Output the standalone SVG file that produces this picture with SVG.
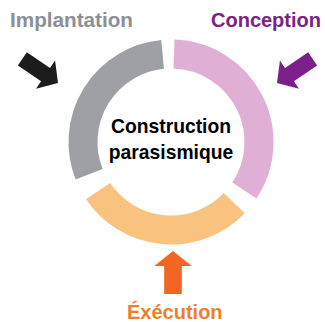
<svg xmlns="http://www.w3.org/2000/svg" xmlns:xlink="http://www.w3.org/1999/xlink" width="325" height="322" viewBox="0 0 325 322">
  <style>
    .seg { fill: none; stroke-width: 29; }
    .lbl { font-family: "Liberation Sans", Arial, sans-serif; font-weight: bold; font-size: 20px; }
    .ctr { font-family: "Liberation Sans", Arial, sans-serif; font-weight: bold; font-size: 19.3px; fill: #000; text-anchor: middle; }
  </style>
  <defs>
    <polygon id="arrow" points="-43,-8 -15,-8 -15,-17 0,0 -15,17 -15,8 -43,8"/>
  </defs>
  <rect width="325" height="322" fill="#ffffff"/>
  <g id="ring">
    <path id="seg-conception" class="seg" stroke="#dfafd6" d="M174.07,54.05 A88,88 0 0 1 244.38,190.57"/>
    <path id="seg-execution" class="seg" stroke="#f9c27f" d="M234.30,203.13 A88,88 0 0 1 98.05,191.21"/>
    <path id="seg-implantation" class="seg" stroke="#9ea0a6" d="M89.13,174.25 A88,88 0 0 1 162.57,54.40"/>
  </g>
  <g id="connectors">
    <use xlink:href="#arrow" href="#arrow" fill="#1c1c1c" transform="translate(58,83) rotate(34)"/>
    <use xlink:href="#arrow" href="#arrow" fill="#7d1f8a" transform="translate(277,83) rotate(146)"/>
    <use xlink:href="#arrow" href="#arrow" fill="#f26522" transform="translate(173,251) rotate(-90) scale(1,1.1)"/>
  </g>
  <g id="node-implantation">
    <text class="lbl" x="10" y="27" fill="#8c8f94" textLength="123" lengthAdjust="spacingAndGlyphs">Implantation</text>
  </g>
  <g id="node-conception">
    <text class="lbl" x="211" y="27" fill="#7a2382">Conception</text>
  </g>
  <g id="node-execution">
    <text class="lbl" x="127" y="319" fill="#f07f2c">Éxécution</text>
  </g>
  <g id="node-center">
    <text class="ctr" x="171" y="133">Construction</text>
    <text class="ctr" x="171" y="159">parasismique</text>
  </g>
</svg>
